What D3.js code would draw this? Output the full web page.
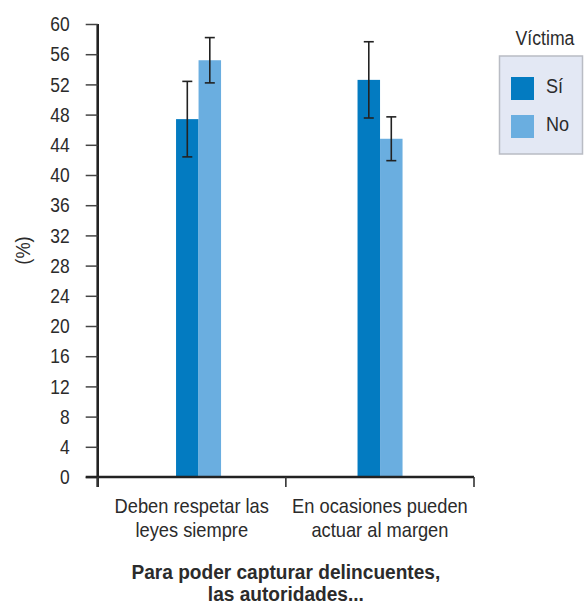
<!DOCTYPE html>
<html>
<head>
<meta charset="utf-8">
<script src="https://cdn.jsdelivr.net/npm/d3@7"></script>
<style>
  html, body { margin: 0; padding: 0; background: #fff; }
  svg text { font-family: "Liberation Sans", Arial, sans-serif; fill: #2b2b2b; }
</style>
</head>
<body>
<svg id="chart" width="584" height="604"></svg>
<script>
// Respuestas por categoría y condición de víctima (%), con intervalos de error
const categories = ["Deben respetar las|leyes siempre", "En ocasiones pueden|actuar al margen"];
const seriesNames = ["Sí", "No"];
const valuesSi = [47.4, 52.6];
const valuesNo = [55.2, 44.8];
const errorSi = [5.0, 5.05];
const errorNo = [3.0, 2.9];
const yTicks = [0, 4, 8, 12, 16, 20, 24, 28, 32, 36, 40, 44, 48, 52, 56, 60];
const colors = ["#037bc1", "#6aaee0"];

const svg = d3.select("#chart");
const plotLeft = 97.7, plotRight = 474, plotTop = 24, plotBottom = 477;
const FS = 21;

// Texto estrecho: comprime horizontalmente alrededor del punto de anclaje
function condense(sel, s) {
  sel.each(function () {
    const x = +(this.getAttribute("x") || 0);
    const t = this.getAttribute("transform") || "";
    this.setAttribute("transform", `${t} translate(${x},0) scale(${s},1) translate(${-x},0)`);
  });
}

const y = d3.scaleLinear().domain([0, 60]).range([plotBottom, plotTop]);
// Bandas de categoría (etiquetas y divisiones del eje)
const x0 = d3.scaleBand().domain(categories).range([plotLeft, plotRight]).padding(0);
// Posición de cada grupo de barras
const xg = d3.scaleBand().domain(categories).range([plotLeft, plotRight])
  .paddingInner(0.752).paddingOuter(0.4127).align(0.523);
const x1 = d3.scaleBand().domain(seriesNames).range([0, xg.bandwidth()]);

const rows = categories.map((c, i) => ({
  cat: c,
  items: [
    { s: "Sí", v: valuesSi[i], e: errorSi[i] },
    { s: "No", v: valuesNo[i], e: errorNo[i] }
  ]
}));

// Barras
const groups = svg.selectAll("g.grp").data(rows).join("g")
  .attr("class", "grp")
  .attr("transform", d => `translate(${xg(d.cat)},0)`);

groups.selectAll("rect").data(d => d.items).join("rect")
  .attr("x", d => x1(d.s))
  .attr("width", x1.bandwidth())
  .attr("y", d => y(d.v))
  .attr("height", d => y(0) - y(d.v))
  .attr("fill", (d, i) => colors[i]);

// Barras de error
const eb = groups.selectAll("g.err").data(d => d.items).join("g")
  .attr("class", "err")
  .attr("transform", d => `translate(${x1(d.s) + x1.bandwidth() / 2},0)`)
  .attr("stroke", "#222").attr("stroke-width", 1.6);
eb.append("line").attr("x1", 0).attr("x2", 0)
  .attr("y1", d => y(d.v + d.e)).attr("y2", d => y(d.v - d.e));
eb.append("line").attr("x1", -5).attr("x2", 5)
  .attr("y1", d => y(d.v + d.e)).attr("y2", d => y(d.v + d.e));
eb.append("line").attr("x1", -5).attr("x2", 5)
  .attr("y1", d => y(d.v - d.e)).attr("y2", d => y(d.v - d.e));

// Eje Y
const yAxis = svg.append("g").attr("transform", `translate(${plotLeft},0)`)
  .call(d3.axisLeft(y).tickValues(yTicks).tickSize(12).tickPadding(16));
yAxis.select(".domain").attr("stroke", "#222").attr("stroke-width", 2.6)
  .attr("d", `M0,${plotTop}V${plotBottom + 10}`);
yAxis.selectAll(".tick line").attr("stroke", "#444").attr("stroke-width", 1.5);
yAxis.selectAll(".tick text").attr("font-size", FS).attr("fill", "#2b2b2b")
  .style("font-family", '"Liberation Sans", Arial, sans-serif')
  .call(condense, 0.83);

// Eje X
const xAxis = svg.append("g").attr("transform", `translate(0,${plotBottom})`)
  .call(d3.axisBottom(x0).tickValues([]).tickSizeOuter(0));
xAxis.select(".domain").attr("stroke", "#222").attr("stroke-width", 2.6)
  .attr("d", `M${plotLeft - 12},0H${plotRight}`);
const bounds = [plotLeft, plotLeft + x0.bandwidth(), plotRight];
xAxis.selectAll("line.sep").data(bounds).join("line")
  .attr("class", "sep")
  .attr("x1", d => d).attr("x2", d => d)
  .attr("y1", 0).attr("y2", 10)
  .attr("stroke", "#333").attr("stroke-width", 1.6);

// Etiquetas de categoría
const catLabels = svg.selectAll("text.cat").data(categories).join("text")
  .attr("class", "cat")
  .attr("text-anchor", "middle")
  .attr("font-size", FS)
  .attr("x", d => x0(d) + x0.bandwidth() / 2)
  .attr("y", 513);
catLabels.each(function (d) {
  const parts = d.split("|");
  d3.select(this).selectAll("tspan").data(parts).join("tspan")
    .attr("x", d3.select(this).attr("x"))
    .attr("dy", (p, i) => i === 0 ? 0 : 24)
    .text(p => p);
});
catLabels.call(condense, 0.87);

// Título del eje X
const xTitle = svg.append("text")
  .attr("text-anchor", "middle").attr("font-size", FS).attr("font-weight", "bold")
  .attr("x", (plotLeft + plotRight) / 2).attr("y", 579);
xTitle.append("tspan").attr("x", (plotLeft + plotRight) / 2).text("Para poder capturar delincuentes,");
xTitle.append("tspan").attr("x", (plotLeft + plotRight) / 2).attr("dy", 22).text("las autoridades...");
xTitle.call(condense, 0.91);

// Título del eje Y
svg.append("text")
  .attr("transform", `translate(23,${(plotTop + plotBottom) / 2}) rotate(-90)`)
  .attr("text-anchor", "middle").attr("font-size", FS).attr("dy", "0.35em")
  .text("(%)")
  .call(condense, 0.87);

// Leyenda
svg.append("text").attr("x", 545).attr("y", 45).attr("text-anchor", "middle")
  .attr("font-size", FS).text("Víctima")
  .call(condense, 0.84);
svg.append("rect").attr("x", 499.5).attr("y", 56).attr("width", 83).attr("height", 98)
  .attr("fill", "#e3e8f4").attr("stroke", "#b9bcc4").attr("stroke-width", 1.5);
const leg = svg.selectAll("g.leg").data(seriesNames).join("g")
  .attr("class", "leg")
  .attr("transform", (d, i) => `translate(511,${77 + i * 38})`);
leg.append("rect").attr("width", 23).attr("height", 23).attr("fill", (d, i) => colors[i]);
leg.append("text").attr("x", 35).attr("y", 16).attr("font-size", FS).text(d => d)
  .call(condense, 0.86);
</script>
</body>
</html>
